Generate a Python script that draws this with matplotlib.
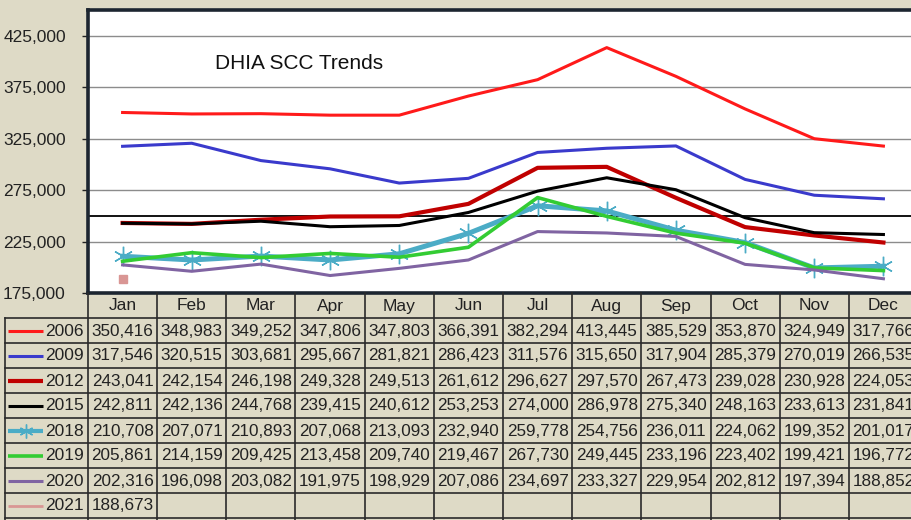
import matplotlib.pyplot as plt

plt.rcParams['font.family'] = ['Liberation Sans', 'DejaVu Sans']

months = ['Jan', 'Feb', 'Mar', 'Apr', 'May', 'Jun', 'Jul', 'Aug', 'Sep', 'Oct', 'Nov', 'Dec']
years = ['2006', '2009', '2012', '2015', '2018', '2019', '2020', '2021']

scc_2006 = [350416, 348983, 349252, 347806, 347803, 366391, 382294, 413445, 385529, 353870, 324949, 317766]
scc_2009 = [317546, 320515, 303681, 295667, 281821, 286423, 311576, 315650, 317904, 285379, 270019, 266535]
scc_2012 = [243041, 242154, 246198, 249328, 249513, 261612, 296627, 297570, 267473, 239028, 230928, 224053]
scc_2015 = [242811, 242136, 244768, 239415, 240612, 253253, 274000, 286978, 275340, 248163, 233613, 231841]
scc_2018 = [210708, 207071, 210893, 207068, 213093, 232940, 259778, 254756, 236011, 224062, 199352, 201017]
scc_2019 = [205861, 214159, 209425, 213458, 209740, 219467, 267730, 249445, 233196, 223402, 199421, 196772]
scc_2020 = [202316, 196098, 203082, 191975, 198929, 207086, 234697, 233327, 229954, 202812, 197394, 188852]
scc_2021 = [188673]

all_series = [scc_2006, scc_2009, scc_2012, scc_2015, scc_2018, scc_2019, scc_2020, scc_2021]

# style per series: colour, line width, marker, marker size
styles = [
    ('#ff1a1a', 2.2, None, 0),
    ('#3a3acc', 2.2, None, 0),
    ('#c00000', 3.0, None, 0),
    ('#000000', 2.2, None, 0),
    ('#4bacc6', 3.6, (6, 2, 0), 14),
    ('#33cc33', 2.6, None, 0),
    ('#8064a2', 2.2, None, 0),
    ('#d99694', 2.0, 's', 6),
]

bg = '#dedac6'
W, H = 912, 520

fig = plt.figure(figsize=(W / 100, H / 100), dpi=100, facecolor=bg)

# chart area
ax = fig.add_axes([88 / W, 227 / H, 830 / W, 283 / H])
ax.set_facecolor('white')
for vals, (col, lw, mk, ms) in zip(all_series, styles):
    ax.plot(range(len(vals)), vals, color=col, lw=lw, marker=mk, markersize=ms,
            markeredgewidth=1.0, solid_joinstyle='round', zorder=3)
ax.set_xlim(-0.5, 11.5)
ax.set_ylim(175000, 450000)
ax.set_yticks(range(175000, 450001, 50000))
ax.set_yticklabels([f'{t:,}' for t in range(175000, 450001, 50000)], fontsize=12.5, color='#222222')
ax.set_xticks([])
ax.yaxis.grid(True, color='#8c8c8c', lw=1.0)
ax.set_axisbelow(True)
ax.axhline(250000, color='black', lw=1.3, zorder=2)
ax.tick_params(axis='y', length=4, width=1, pad=12, color='#222222')
for s in ['left', 'top', 'bottom']:
    ax.spines[s].set_linewidth(2.6)
    ax.spines[s].set_color('#1c2530')
ax.spines['right'].set_visible(False)
ax.text(1.34, 398000, 'DHIA SCC Trends', ha='left', va='center', fontsize=15, color='#111111')

# data table
row_h = 25
tb = fig.add_axes([88 / W, 0, 830 / W, 227 / H])
tb.set_xlim(-0.5, 11.5)
tb.set_ylim(227 / row_h, 0)
tb.axis('off')
tb.patch.set_alpha(0)
left_x = -0.5 - 83 / (830 / 12)
line_c = '#2a2a2a'
for k in range(13):
    tb.plot([-0.5 + k, -0.5 + k], [0, 10], color=line_c, lw=1.2, clip_on=False)
tb.plot([left_x, left_x], [1, 10], color=line_c, lw=1.2, clip_on=False)
for r in range(1, 10):
    tb.plot([left_x, 11.5], [r, r], color=line_c, lw=1.2, clip_on=False)

for j, m in enumerate(months):
    tb.text(j, 0.52, m, ha='center', va='center', fontsize=12.5, color='#222222')

px = 830 / 12
for i, (yr, vals, (col, lw, mk, ms)) in enumerate(zip(years, all_series, styles)):
    yy = i + 1.5
    tb.plot([-0.5 - 80 / px, -0.5 - 45 / px], [yy, yy], color=col, lw=min(lw, 3.0),
            clip_on=False, solid_capstyle='butt')
    if mk == (6, 2, 0):
        tb.plot([-0.5 - 62.5 / px], [yy], marker=mk, markersize=10, color=col, clip_on=False)
    tb.text(-0.5 - 4 / px, yy + 0.02, yr, ha='right', va='center', fontsize=12.5, color='#222222')
    for j, v in enumerate(vals):
        tb.text(j, yy + 0.02, f'{v:,}', ha='center', va='center', fontsize=12.3, color='#222222')

fig.savefig('out.png', dpi=100, facecolor=bg)
